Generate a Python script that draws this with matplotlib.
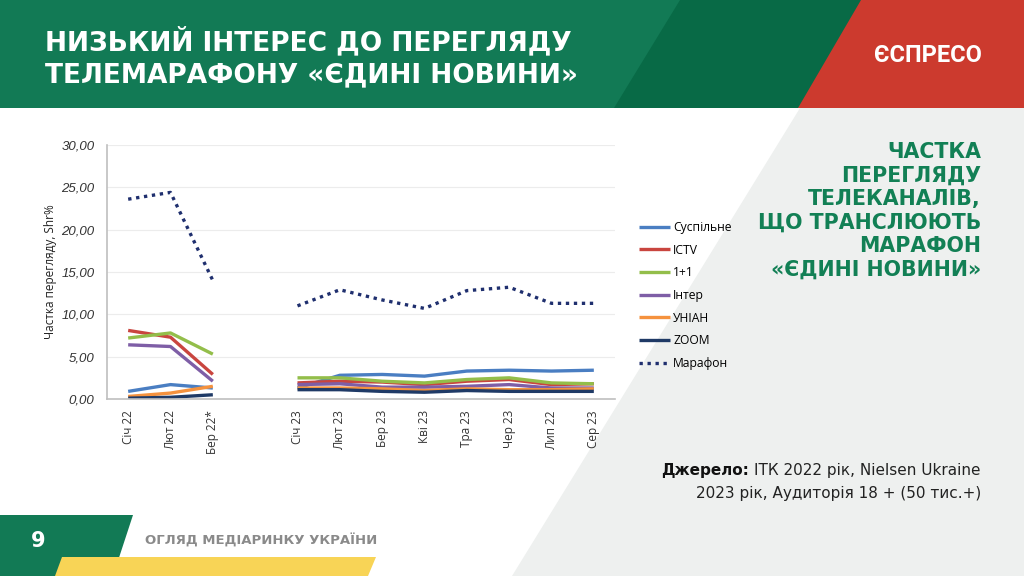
import numpy as np
import matplotlib
matplotlib.use("Agg")
import matplotlib.pyplot as plt
from matplotlib.patches import Polygon

# ---------------- data ----------------
categories = ["Січ 22", "Лют 22", "Бер 22*", "", "Січ 23", "Лют 23", "Бер 23",
              "Кві 23", "Тра 23", "Чер 23", "Лип 22", "Сер 23"]
nan = np.nan
suspilne = [0.9, 1.7, 1.3, nan, 1.3, 2.8, 2.9, 2.7, 3.3, 3.4, 3.3, 3.4]
ictv     = [8.1, 7.3, 2.9, nan, 1.9, 2.1, 2.0, 1.7, 2.1, 2.3, 1.7, 1.8]
one_one  = [7.2, 7.8, 5.3, nan, 2.5, 2.5, 2.1, 1.9, 2.3, 2.5, 1.9, 1.8]
inter    = [6.4, 6.2, 2.1, nan, 1.7, 1.8, 1.4, 1.4, 1.5, 1.7, 1.3, 1.3]
unian    = [0.3, 0.7, 1.5, nan, 1.3, 1.3, 1.2, 1.0, 1.2, 1.1, 1.1, 1.2]
zoom     = [0.1, 0.2, 0.5, nan, 1.1, 1.1, 0.9, 0.8, 1.0, 0.9, 0.9, 0.9]
marathon = [23.6, 24.4, 14.0, nan, 11.0, 12.9, 11.7, 10.7, 12.8, 13.2, 11.3, 11.3]
series_names = ["Суспільне", "ICTV", "1+1", "Інтер", "УНІАН", "ZOOM", "Марафон"]
yticks = [0, 5, 10, 15, 20, 25, 30]
ytick_labels = ["0,00", "5,00", "10,00", "15,00", "20,00", "25,00", "30,00"]

colors = ["#4A7EC2", "#C9453F", "#93BE4A", "#7E5EA6", "#F5923E", "#1F3A66", "#1F2F6E"]

W, H = 1024, 576
fig = plt.figure(figsize=(W / 100, H / 100), dpi=100)
fig.patch.set_facecolor("white")

def px(x, y):
    return (x / W, 1 - y / H)

def poly(points, color, z=0):
    p = Polygon([px(*pt) for pt in points], closed=True, transform=fig.transFigure,
                facecolor=color, edgecolor="none", zorder=z)
    fig.add_artist(p)

# background light gray diagonal region
poly([(800, 108), (1024, 108), (1024, 576), (512, 576)], "#EEF0EF", 0)
# header
poly([(0, 0), (1024, 0), (1024, 108), (0, 108)], "#127A55", 0)
poly([(680, 0), (1024, 0), (1024, 108), (614, 108)], "#086A46", 0)
poly([(861, 0), (1024, 0), (1024, 108), (798, 108)], "#CC3A2E", 0)
# footer
poly([(0, 515), (133, 515), (113, 576), (0, 576)], "#127A55", 0)
poly([(62, 557), (376, 557), (368, 576), (55, 576)], "#F8D456", 0)

head_font = ["DejaVu Sans"]
body_font = ["Open Sans", "DejaVu Sans"]
fig.text(45 / W, 1 - 42 / H, "НИЗЬКИЙ ІНТЕРЕС ДО ПЕРЕГЛЯДУ", color="white",
         fontsize=19, fontweight="bold", family=head_font, va="center", ha="left")
fig.text(45 / W, 1 - 75 / H, "ТЕЛЕМАРАФОНУ «ЄДИНІ НОВИНИ»", color="white",
         fontsize=19, fontweight="bold", family=head_font, va="center", ha="left")
fig.text(982 / W, 1 - 55 / H, "ЄСПРЕСО", color="white", fontsize=17,
         fontweight="bold", family=["Roboto", "DejaVu Sans"], va="center", ha="right")

right_lines = ["ЧАСТКА", "ПЕРЕГЛЯДУ", "ТЕЛЕКАНАЛІВ,", "ЩО ТРАНСЛЮЮТЬ", "МАРАФОН",
               "«ЄДИНІ НОВИНИ»"]
for i, t in enumerate(right_lines):
    fig.text(981 / W, 1 - (152 + i * 23.6) / H, t, color="#128055", fontsize=14.8,
             fontweight="bold", family=head_font, va="center", ha="right")

src_size = 11
fig.text(981 / W, 1 - 470 / H, "ІТК 2022 рік, Nielsen Ukraine", color="#222222",
         fontsize=src_size, family=head_font, va="center", ha="right")
fig.text(981 / W, 1 - 493 / H, "2023 рік, Аудиторія 18 + (50 тис.+)",
         color="#222222", fontsize=src_size, family=head_font, va="center", ha="right")
tmp = fig.text(0, 0, "ІТК 2022 рік, Nielsen Ukraine", fontsize=src_size, family=head_font)
wpx = tmp.get_window_extent(renderer=fig.canvas.get_renderer()).width
tmp.remove()
fig.text((981 - wpx - 5) / W, 1 - 470 / H, "Джерело:", color="#111111",
         fontsize=src_size, fontweight="bold", family=head_font, va="center", ha="right")

fig.text(38 / W, 1 - 541 / H, "9", color="white", fontsize=15, fontweight="bold",
         family=head_font, va="center", ha="center")
fig.text(145 / W, 1 - 541 / H, "ОГЛЯД МЕДІАРИНКУ УКРАЇНИ", color="#8A8A8A",
         fontsize=9.5, fontweight="bold", family=head_font, va="center", ha="left")

# ---------------- chart ----------------
ax = fig.add_axes([107 / W, 1 - 399 / H, 508 / W, 254 / H])
ax.set_facecolor("none")
x = np.arange(len(categories))
data = [suspilne, ictv, one_one, inter, unian, zoom]
handles = []
for vals, c, name in zip(data, colors[:6], series_names[:6]):
    h, = ax.plot(x, vals, color=c, lw=2.4, label=name, solid_capstyle="butt")
    handles.append(h)
h, = ax.plot(x, marathon, color=colors[6], lw=2.4, ls=(0, (1, 1.4)), label=series_names[6])
handles.append(h)

ax.set_xlim(-0.5, len(categories) - 0.5)
ax.set_ylim(0, 30)
ax.set_yticks(yticks)
ax.set_yticklabels(ytick_labels, fontsize=9.5, style="italic", color="#333333",
                   family=["Liberation Sans", "DejaVu Sans"])
ax.set_xticks(x)
ax.set_xticklabels(categories, rotation=90, fontsize=8.5, color="#333333",
                   family=body_font)
ax.tick_params(axis="y", length=0, pad=9)
ax.tick_params(axis="x", length=0, pad=8)
ax.grid(axis="y", color="#ECECEC", lw=0.8)
ax.set_axisbelow(True)
for s in ["top", "right"]:
    ax.spines[s].set_visible(False)
ax.spines["left"].set_color("#BFBFBF")
ax.spines["bottom"].set_color("#BFBFBF")
ax.spines["left"].set_linewidth(1.2)
ax.spines["bottom"].set_linewidth(1.2)
ax.set_ylabel("Частка перегляду, Shr%", fontsize=8.5, color="#222222",
              family=body_font, labelpad=3)

fig.legend(handles=handles, labels=series_names, loc="upper left",
           bbox_to_anchor=(628 / W, 1 - 210 / H), frameon=False,
           handlelength=2.6, handletextpad=0.25, labelspacing=0.8,
           prop={"family": body_font, "size": 8.7})

fig.savefig("out.png", dpi=100)
